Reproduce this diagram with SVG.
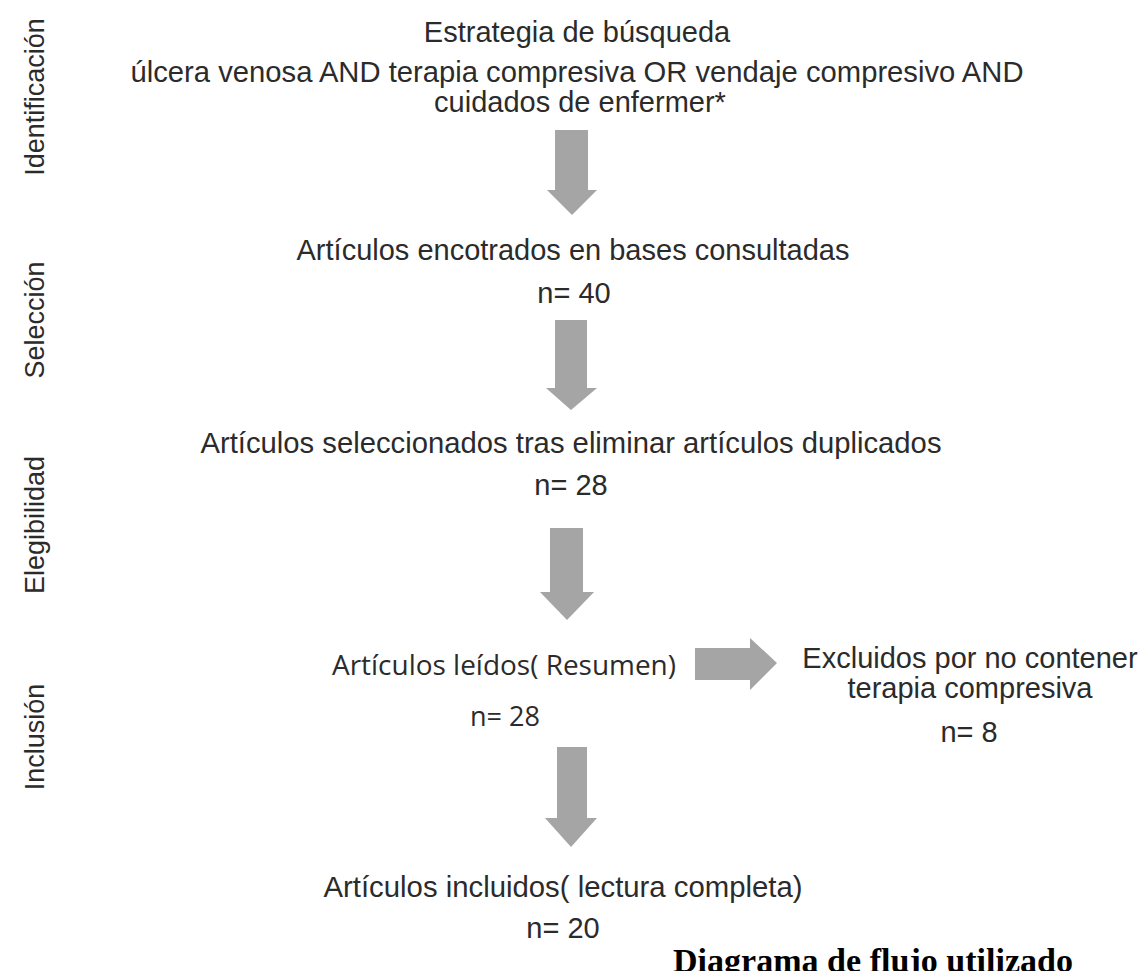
<svg xmlns="http://www.w3.org/2000/svg" width="1148" height="971" viewBox="0 0 1148 971">
<style>
.t{font-family:"Liberation Sans",Arial,sans-serif;font-size:29px;fill:#2b2b2b;text-anchor:middle}
.s{font-family:"Open Sans","Noto Sans",sans-serif;font-size:27px;fill:#2b2b2b;text-anchor:middle}
.side{font-family:"Liberation Sans",Arial,sans-serif;font-size:27px;fill:#2b2b2b;text-anchor:middle}
.cap{font-family:"Liberation Serif","Times New Roman",serif;font-size:34px;font-weight:bold;fill:#000}
.arr{fill:#a5a5a5}
</style>
<rect width="1148" height="971" fill="#fff"/>
<g id="phases">
<text class="side" transform="translate(44,97) rotate(-90)">Identificación</text>
<text class="side" transform="translate(44,320) rotate(-90)">Selección</text>
<text class="side" transform="translate(44,525) rotate(-90)">Elegibilidad</text>
<text class="side" transform="translate(44,737) rotate(-90)">Inclusión</text>
</g>
<g id="n-estrategia">
<text class="t" x="577" y="42">Estrategia de búsqueda</text>
<text class="t" x="577" y="82" textLength="893" lengthAdjust="spacingAndGlyphs">úlcera venosa AND terapia compresiva OR vendaje compresivo AND</text>
<text class="t" x="580" y="112">cuidados de enfermer*</text>
</g>
<g id="n-encontrados">
<text class="t" x="573" y="260">Artículos encotrados en bases consultadas</text>
<text class="t" x="574" y="303">n= 40</text>
</g>
<g id="n-seleccionados">
<text class="t" x="571" y="453" textLength="741" lengthAdjust="spacingAndGlyphs">Artículos seleccionados tras eliminar artículos duplicados</text>
<text class="t" x="571" y="495">n= 28</text>
</g>
<g id="n-leidos">
<text class="s" x="504" y="675" textLength="344" lengthAdjust="spacingAndGlyphs">Artículos leídos( Resumen)</text>
<text class="s" x="505" y="726">n= 28</text>
</g>
<g id="n-excluidos">
<text class="t" x="970" y="668">Excluidos por no contener</text>
<text class="t" x="970" y="698">terapia compresiva</text>
<text class="t" x="969" y="742">n= 8</text>
</g>
<g id="n-incluidos">
<text class="t" x="563" y="897" textLength="479" lengthAdjust="spacingAndGlyphs">Artículos incluidos( lectura completa)</text>
<text class="t" x="563" y="938">n= 20</text>
</g>
<g id="connectors">
<polygon class="arr" points="555,130 588,130 588,190 597,190 572,215 547,190 555,190"/>
<polygon class="arr" points="555,320 587,320 587,388 597,388 571,410 546,388 555,388"/>
<polygon class="arr" points="550,528 583,528 583,592 594,592 567,620 540,592 550,592"/>
<polygon class="arr" points="557,747 587,747 587,818 597,818 571,847 545,818 557,818"/>
<polygon class="arr" points="695,648 750,648 750,638 777,663 750,690 750,680 695,680"/>
</g>
<g id="caption">
<text class="cap" x="673" y="972" textLength="400" lengthAdjust="spacingAndGlyphs">Diagrama de flujo utilizado</text>
</g>
</svg>
